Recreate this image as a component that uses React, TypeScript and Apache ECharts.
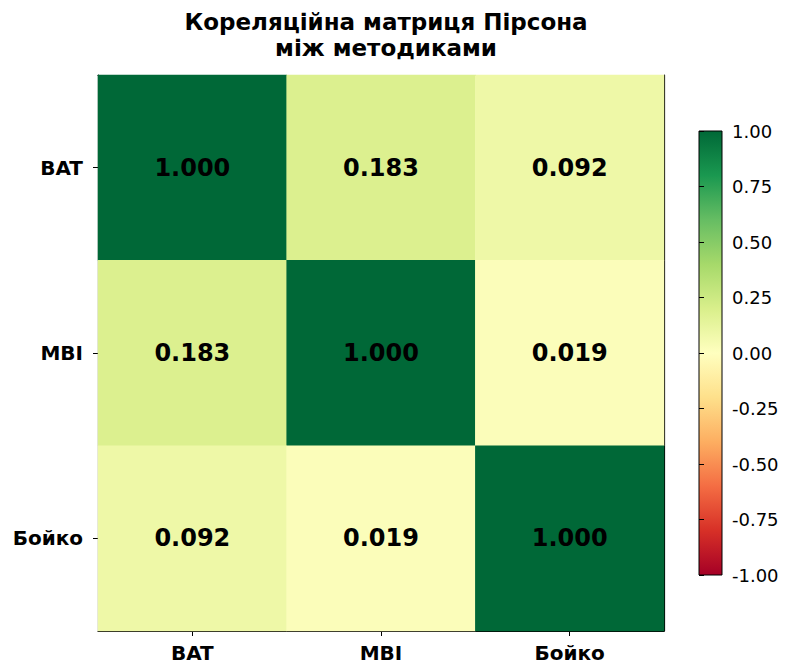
import React, { useEffect, useRef } from "react";
import * as echarts from "echarts";

const methods = ["BAT", "MBI", "Бойко"];
const corrBAT = [1.0, 0.183, 0.092];
const corrMBI = [0.183, 1.0, 0.019];
const corrBoyko = [0.092, 0.019, 1.0];
const colorbarTicks = [-1, -0.75, -0.5, -0.25, 0, 0.25, 0.5, 0.75, 1];
const rdYlGn = [
  "#a50026", "#d73027", "#f46d43", "#fdae61", "#fee08b", "#ffffbf",
  "#d9ef8b", "#a6d96a", "#66bd63", "#1a9850", "#006837",
];

const FONT = "DejaVu Sans";

export default function App() {
  const ref = useRef<HTMLDivElement>(null);
  useEffect(() => {
    const chart = echarts.init(ref.current!, null, { renderer: "svg" });
    const rows = [corrBAT, corrMBI, corrBoyko];
    const data: [number, number, number][] = [];
    rows.forEach((row, yi) => row.forEach((v, xi) => data.push([xi, yi, v])));

    const gradStops = rdYlGn.map((c, i) => ({ offset: i / (rdYlGn.length - 1), color: c }));

    chart.setOption({
      animation: false,
      backgroundColor: "#ffffff",
      title: {
        text: "Кореляційна матриця Пірсона\nміж методиками",
        left: 381,
        textAlign: "center",
        top: 4,
        textStyle: { fontFamily: FONT, fontWeight: "bold", fontSize: 23, lineHeight: 26, color: "#000" },
      },
      grid: [
        { left: 98, top: 75, width: 566, height: 556, show: false },
        {
          left: 699, top: 131, width: 23, height: 444, show: true,
          borderColor: "#000", borderWidth: 1,
          backgroundColor: new echarts.graphic.LinearGradient(0, 1, 0, 0, gradStops),
        },
      ],
      xAxis: [
        {
          type: "category", data: methods, gridIndex: 0, position: "bottom",
          axisLine: { show: true, lineStyle: { color: "#000", width: 1.2 } },
          axisTick: { show: true, alignWithLabel: true, length: 5, lineStyle: { color: "#000" } },
          axisLabel: { fontFamily: FONT, fontWeight: "bold", fontSize: 20, color: "#000", margin: 12 },
          splitLine: { show: false },
        },
        {
          type: "category", data: methods, gridIndex: 0, position: "top",
          axisLine: { show: true, onZero: false, lineStyle: { color: "#000", width: 1.2 } },
          axisTick: { show: false }, axisLabel: { show: false },
        },
        {
          type: "value", gridIndex: 1, show: false, min: 0, max: 1,
        },
      ],
      yAxis: [
        {
          type: "category", data: methods, gridIndex: 0, inverse: true, position: "left",
          axisLine: { show: true, lineStyle: { color: "#000", width: 1.2 } },
          axisTick: { show: true, alignWithLabel: true, length: 5, lineStyle: { color: "#000" } },
          axisLabel: { fontFamily: FONT, fontWeight: "bold", fontSize: 20, color: "#000", margin: 15 },
        },
        {
          type: "category", data: methods, gridIndex: 0, inverse: true, position: "right",
          axisLine: { show: true, onZero: false, lineStyle: { color: "#000", width: 1.2 } },
          axisTick: { show: false }, axisLabel: { show: false },
        },
        {
          type: "value", gridIndex: 1, position: "right", min: -1, max: 1, interval: 0.25,
          axisLine: { show: false },
          axisTick: { show: true, length: 5, lineStyle: { color: "#000" } },
          axisLabel: {
            fontFamily: FONT, fontSize: 18, color: "#000", margin: 10,
            formatter: (v: number) => (colorbarTicks.includes(v) ? v.toFixed(2) : ""),
          },
          splitLine: { show: false },
        },
      ],
      visualMap: {
        show: false, type: "continuous", min: -1, max: 1, seriesIndex: 0,
        inRange: { color: rdYlGn },
      },
      series: [
        {
          type: "heatmap", xAxisIndex: 0, yAxisIndex: 0, data,
          itemStyle: { borderWidth: 0 },
          label: {
            show: true, fontFamily: FONT, fontWeight: "bold", fontSize: 24, color: "#000",
            formatter: (p: any) => p.value[2].toFixed(3),
          },
          emphasis: { disabled: true },
        },
      ],
    });
    return () => chart.dispose();
  }, []);
  return (
    <div
      ref={ref}
      style={{ position: "fixed", left: 0, top: 0, width: 785, height: 664 }}
    />
  );
}
